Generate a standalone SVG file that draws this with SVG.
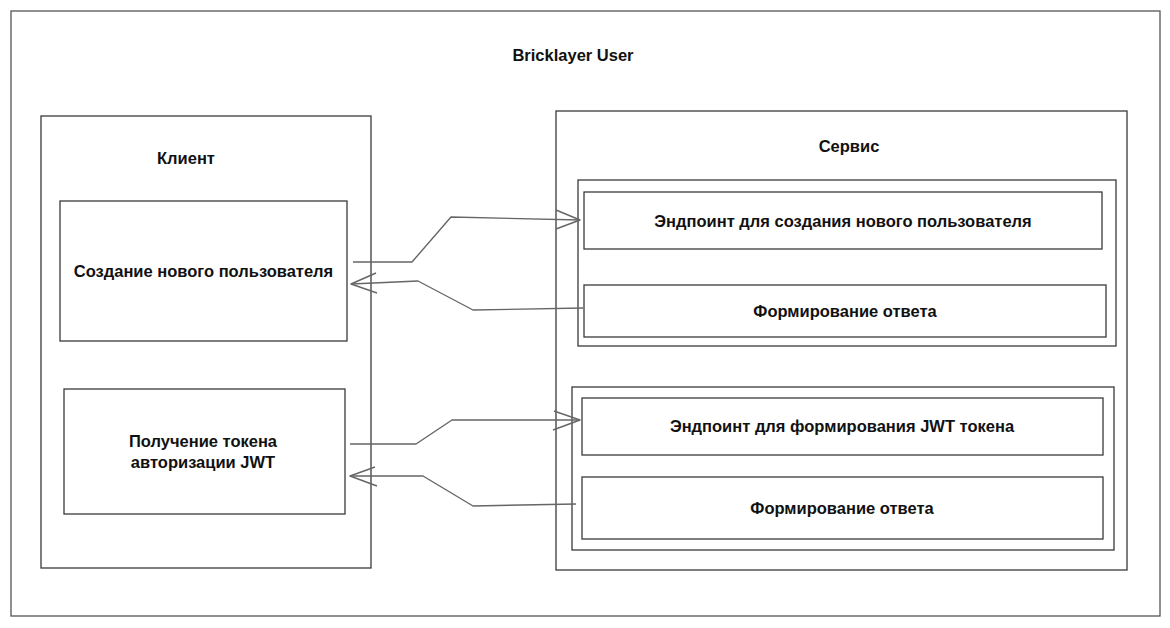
<svg xmlns="http://www.w3.org/2000/svg" width="1170" height="628" viewBox="0 0 1170 628">
<style>
.box{fill:#fff;stroke:#3a3a3a;stroke-width:1.3}
.frame{fill:#fff;stroke:#555;stroke-width:1.3}
.t{font-family:"Liberation Sans",Arial,sans-serif;font-weight:bold;font-size:16.5px;fill:#111;text-anchor:middle}
.c{fill:none;stroke:#666;stroke-width:1.4;stroke-linejoin:round}
</style>
<rect width="1170" height="628" fill="#fff"/>
<g id="frame">
<rect class="frame" x="11" y="11" width="1149" height="605"/>
<text class="t" x="573" y="61">Bricklayer User</text>
</g>
<g id="client">
<rect class="box" x="41" y="116" width="330" height="452"/>
<text class="t" x="186" y="164">Клиент</text>
</g>
<g id="create-user">
<rect class="box" x="60" y="201" width="287" height="140"/>
<text class="t" x="203.5" y="277">Создание нового пользователя</text>
</g>
<g id="get-token">
<rect class="box" x="64" y="389" width="281" height="125"/>
<text class="t" x="203" y="447">Получение токена</text>
<text class="t" x="203" y="468">авторизации JWT</text>
</g>
<g id="service">
<rect class="box" x="556" y="111" width="571" height="459"/>
<text class="t" x="849" y="152">Сервис</text>
</g>
<g id="group-user">
<rect class="box" x="578" y="180" width="538" height="166"/>
</g>
<g id="endpoint-user">
<rect class="box" x="584" y="192" width="518" height="57"/>
<text class="t" x="843" y="227">Эндпоинт для создания нового пользователя</text>
</g>
<g id="response-user">
<rect class="box" x="584" y="285" width="522" height="52"/>
<text class="t" x="845" y="317">Формирование ответа</text>
</g>
<g id="group-token">
<rect class="box" x="572" y="387" width="542" height="163"/>
</g>
<g id="endpoint-token">
<rect class="box" x="582" y="398" width="521" height="57"/>
<text class="t" x="842" y="432">Эндпоинт для формирования JWT токена</text>
</g>
<g id="response-token">
<rect class="box" x="582" y="477" width="521" height="62"/>
<text class="t" x="842" y="514">Формирование ответа</text>
</g>
<g id="connectors">
<polyline class="c" points="353,262 412,262 451,217 580,220"/>
<polyline class="c" points="556,210 580,220 556,229"/>
<polyline class="c" points="583,308 473,310 418,281 351,284"/>
<polyline class="c" points="376,273 351,284 377,293"/>
<polyline class="c" points="350,444 416,444 452,420 580,420"/>
<polyline class="c" points="554,411 580,420 553,430"/>
<polyline class="c" points="576,504 473,506 423,476 350,476"/>
<polyline class="c" points="375,467 350,476 377,486"/>
</g>
</svg>
